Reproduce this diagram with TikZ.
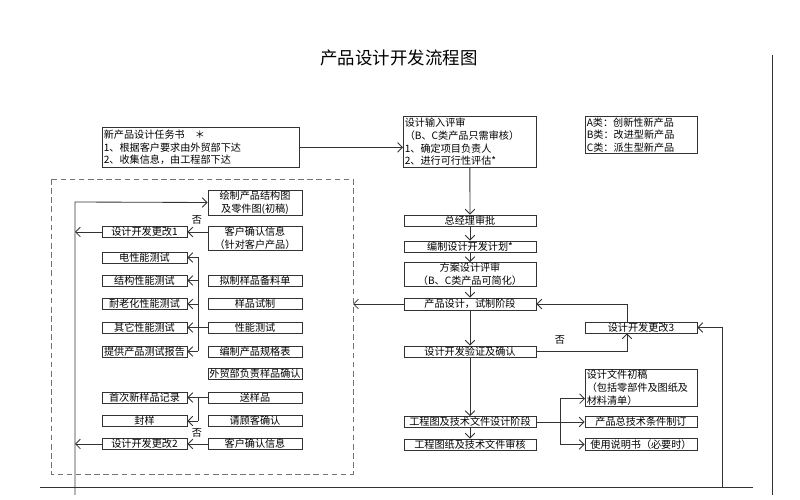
\documentclass[tikz,border=0pt]{standalone}
\usepackage{fontspec}
\setmainfont{Noto Sans CJK SC}
\usetikzlibrary{arrows.meta}

\tikzset{
  box/.style={draw=black!80,line width=0.6pt,inner sep=0.6pt,minimum height=2.75mm,font=\fontsize{7.2pt}{9pt}\selectfont},
  lbox/.style={box,minimum width=21.25mm},
  mbox/.style={box,minimum width=23.5mm,align=center},
  cbox/.style={box,minimum width=33mm,align=center},
  rbox/.style={box,minimum width=28mm},
  note/.style={box,align=left,inner xsep=1pt,anchor=north west},
  arr/.style={->,>={Straight Barb[length=1.2mm,width=2.4mm]}},
  wire/.style={draw=black!80,line width=0.6pt}
}

\begin{document}
\begin{tikzpicture}[x=0.25mm,y=-0.25mm]
\useasboundingbox (0,0) rectangle (800,500);
\fill[white] (0,0) rectangle (800,500);

\node (title) at (399,58) {\fontsize{12.4pt}{14pt}\selectfont 产品设计开发流程图};

% top notes
\node[note,text width=48.5mm,minimum height=10mm] (task) at (102,127) {新产品设计任务书　＊\\1、根据客户要求由外贸部下达\\2、收集信息，由工程部下达};
\node[note,text width=32.5mm,minimum height=12.75mm] (review) at (403,116) {设计输入评审\\（B、C类产品只需审核）\\1、确定项目负责人\\2、进行可行性评估*};
\node[note,text width=27.2mm,minimum height=9.25mm] (kinds) at (585,116) {A类：创新性新产品\\B类：改进型新产品\\C类：派生型新产品};

% centre column
\node[cbox] (approve) at (470,220.5) {总经理审批};
\node[cbox] (plan) at (470,246.5) {编制设计开发计划*};
\node[cbox,minimum height=5.75mm] (scheme) at (470,274.5) {方案设计评审\\（B、C类产品可简化）};
\node[cbox,minimum height=3mm] (design) at (470,304) {产品设计，试制阶段};
\node[cbox] (verify) at (470,351.5) {设计开发验证及确认};
\node[cbox] (drawing) at (470,422) {工程图及技术文件设计阶段};
\node[cbox] (check) at (470,444.5) {工程图纸及技术文件审核};

% right column
\node[rbox] (change3) at (641,327.5) {设计开发更改3};
\node[note,text width=27.2mm,minimum height=8.5mm] (draft) at (585,369) {设计文件初稿\\（包括零部件及图纸及\\材料清单）};
\node[rbox] (spec) at (641,422) {产品总技术条件制订};
\node[rbox] (manual) at (641,444.5) {使用说明书（必要时）};

% sample stage, middle column
\node[mbox,minimum height=5.75mm] (sketch) at (255,202.5) {绘制产品结构图\\及零件图(初稿)};
\node[mbox,minimum height=5.5mm] (confirm1) at (255,238) {客户确认信息\\（针对客户产品）};
\node[mbox] (bom) at (255,280.5) {拟制样品备料单};
\node[mbox] (trial) at (255,304) {样品试制};
\node[mbox] (perf) at (255,327.5) {性能测试};
\node[mbox] (sheet) at (255,351.5) {编制产品规格表};
\node[mbox] (trade) at (255,374) {外贸部负责样品确认};
\node[mbox] (send) at (255,397.5) {送样品};
\node[mbox] (ask) at (255,421) {请顾客确认};
\node[mbox] (confirm2) at (255,444) {客户确认信息};

% sample stage, left column
\node[lbox] (change1) at (144.5,232) {设计开发更改1};
\node[lbox] (elec) at (144.5,257.5) {电性能测试};
\node[lbox] (struct) at (144.5,280.5) {结构性能测试};
\node[lbox] (aging) at (144.5,304) {耐老化性能测试};
\node[lbox] (other) at (144.5,327.5) {其它性能测试};
\node[lbox] (report) at (144.5,351.5) {提供产品测试报告};
\node[lbox] (first) at (144.5,397.5) {首次新样品记录};
\node[lbox] (seal) at (144.5,421) {封样};
\node[lbox] (change2) at (144.5,444) {设计开发更改2};

\node[font=\fontsize{7.2pt}{9pt}\selectfont] (no1) at (197,220) {否};
\node[font=\fontsize{7.2pt}{9pt}\selectfont] (no2) at (197,433) {否};
\node[font=\fontsize{7.2pt}{9pt}\selectfont] (no3) at (560,340) {否};

\coordinate (lineT) at (75,202);
\coordinate (lineB) at (75,495);
\coordinate (dashR) at (353,304);
\coordinate (testbus) at (198,257.5);
\coordinate (sendbus) at (198,397.5);
\coordinate (fork) at (560,422);
\coordinate (loopB) at (722,487);

\draw[draw=black!55,line width=0.7pt,dash pattern=on 4pt off 2.5pt] (51,179) rectangle (353,474);
\draw[wire] (40,487) -- (753,487);
\draw[wire] (772,55) -- (772,495);

\begin{scope}[wire,arr]
\draw (task.east) -- (task.east -| review.west);
\draw (review.south) -- (approve.north);
\draw (approve) -- (plan);
\draw (plan) -- (scheme);
\draw (scheme) -- (design);
\draw (design) -- (verify);
\draw (verify) -- (drawing);
\draw (drawing) -- (check);
\draw (design.west) -- (dashR);
\draw (verify.east) -| ([xshift=-3.5mm]change3.south);
\draw ([xshift=-3.5mm]change3.north) |- (design.east);
\draw (loopB) |- (change3.east);
\draw (drawing.east) -- (spec.west);
\draw (fork |- draft.west) ++(0,11) coordinate (forkT) -- (forkT -| draft.west);
\draw (fork |- manual) -- (manual.west);
\draw (lineB) -- (lineT) -- (sketch.west);
\draw (confirm1.west |- change1) -- (change1.east);
\draw (change1.west) -- (change1 -| lineT);
\draw (confirm2.west) -- (change2.east);
\draw (change2.west) -- (change2 -| lineT);
\foreach \t in {elec,struct,aging,other,report}
  \draw (testbus |- \t) -- (\t.east);
\draw (sendbus) -- (first.east);
\draw (sendbus |- seal) -- (seal.east);
\end{scope}
\draw[wire] (perf.west) -- (perf -| testbus);
\draw[wire] (testbus) -- (testbus |- report);
\draw[wire] (send.west) -- (sendbus) -- (sendbus |- seal);
\draw[wire] (forkT) -- (fork |- manual);
\end{tikzpicture}
\end{document}
